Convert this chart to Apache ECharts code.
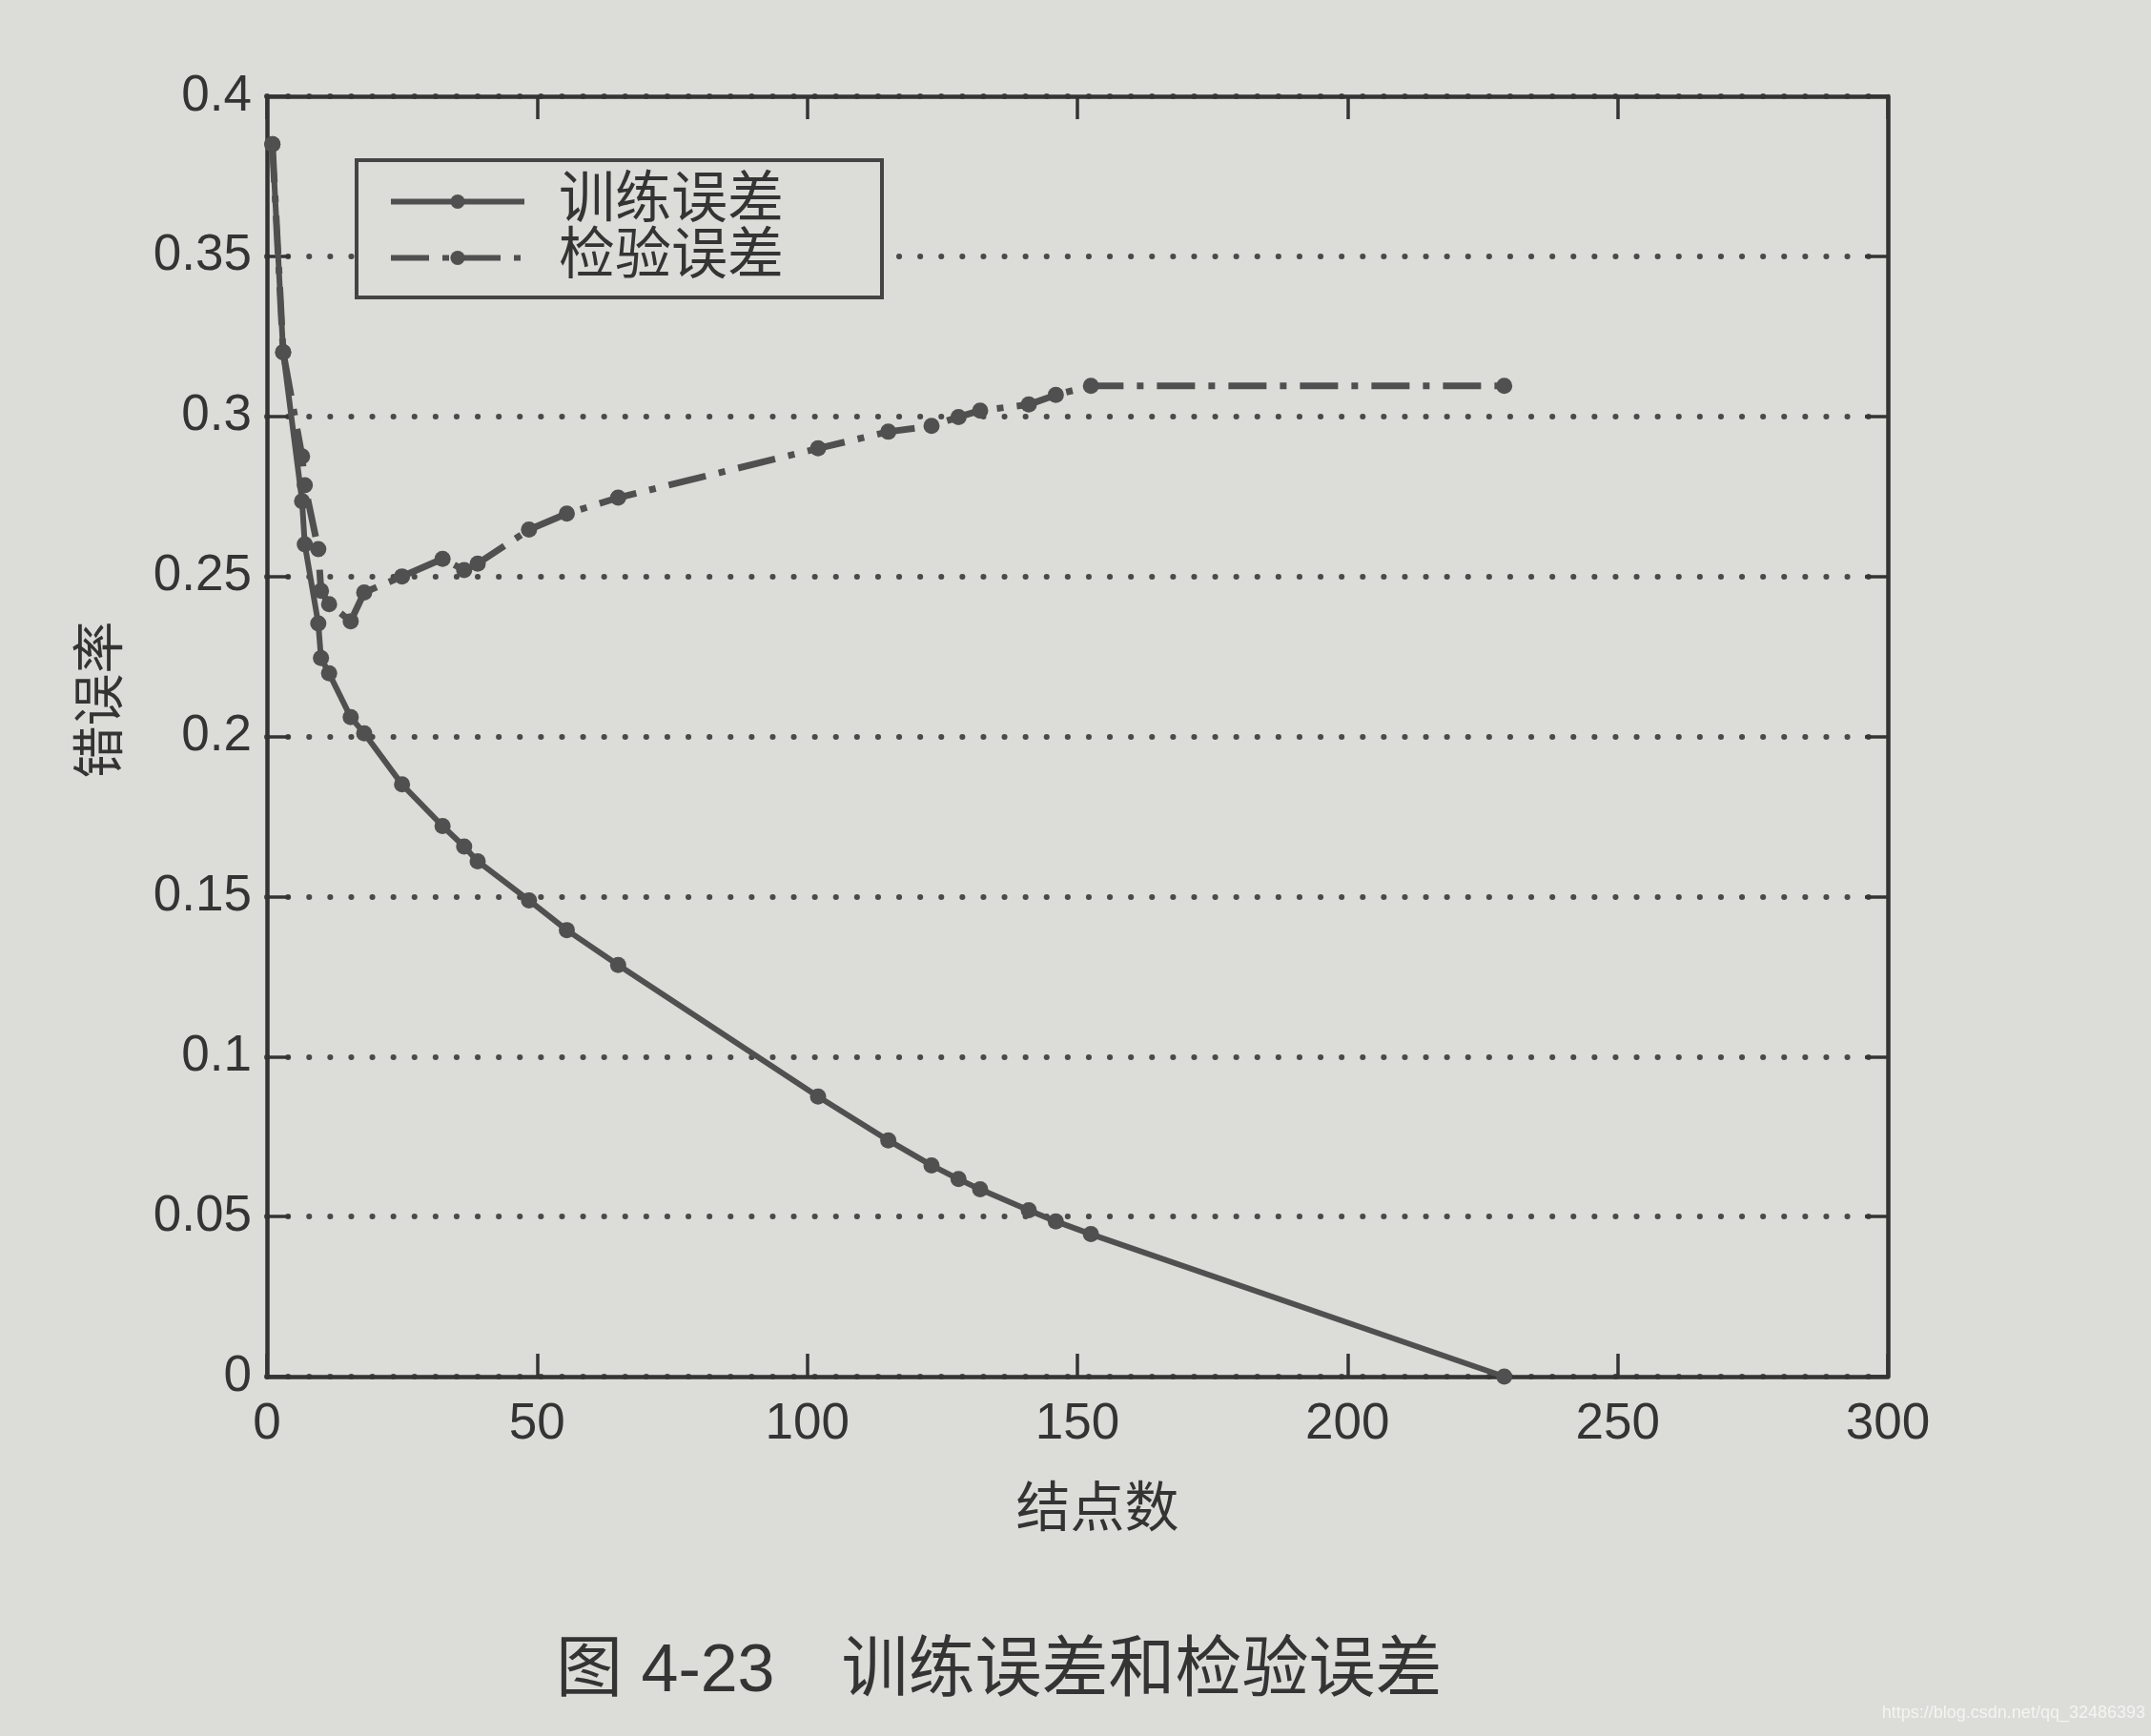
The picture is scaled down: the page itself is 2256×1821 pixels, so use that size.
<!DOCTYPE html>
<html>
<head>
<meta charset="utf-8">
<title>训练误差和检验误差</title>
<script src="https://cdn.jsdelivr.net/npm/echarts@6/dist/echarts.min.js"></script>
<style>
  html, body { margin: 0; padding: 0; background: #dcdcd8; }
  #main { width: 2256px; height: 1821px; }
</style>
</head>
<body>
<div id="main"></div>
<script>
// 数据 (从图上读出来的估计值)
const nodeCounts = [1, 3, 6.5, 7, 9.5, 10, 11.5, 15.5, 18, 25, 32.5, 36.5, 39, 48.5, 55.5, 65, 102, 115, 123, 128, 132, 141, 146, 152.5, 229]
const trainError = [0.385, 0.320, 0.2735, 0.260, 0.2353, 0.2245, 0.2197, 0.206, 0.201, 0.185, 0.172, 0.1656, 0.161, 0.1488, 0.1395, 0.1286, 0.0875, 0.0738, 0.066, 0.0617, 0.0585, 0.052, 0.0485, 0.0445, 0]
const testError = [0.385, 0.320, 0.2875, 0.2785, 0.2585, 0.2455, 0.2413, 0.236, 0.245, 0.250, 0.2555, 0.252, 0.254, 0.2646, 0.2696, 0.2746, 0.290, 0.2952, 0.297, 0.2998, 0.3018, 0.3037, 0.3067, 0.3095, 0.3095]
const seriesNames = ['训练误差', '检验误差']
const xRange = [0, 300, 50] // min, max, interval
const yRange = [0, 0.4, 0.05]

const FONT = "'Liberation Sans', 'Noto Sans CJK SC', sans-serif"
const INK = '#343434'
const LINE = '#505050'
const PAPER = '#dcdcd8'

const chart = echarts.init(document.getElementById('main'))

// 四周的框和朝里的刻度
const tickStyle = { show: true, inside: true, length: 24, lineStyle: { color: INK, width: 3.5 } }
const axisLine = { show: true, onZero: false, lineStyle: { color: INK, width: 4.5 } }
const labelStyle = { color: INK, fontSize: 53, fontFamily: FONT }

chart.setOption({
  animation: false,
  backgroundColor: PAPER,
  grid: { left: 280, right: 276, top: 101, bottom: 377, containLabel: false },
  legend: {
    orient: 'vertical',
    left: 374,
    top: 168,
    data: seriesNames,
    itemWidth: 140,
    itemHeight: 19,
    itemGap: 0,
    padding: [14, 103, 12, 33],
    borderColor: '#444',
    borderWidth: 4,
    backgroundColor: PAPER,
    lineStyle: { width: 6 },
    textStyle: { color: INK, fontSize: 59, lineHeight: 59, fontFamily: FONT, padding: [0, 0, 0, 31] }
  },
  xAxis: [
    {
      type: 'value', min: xRange[0], max: xRange[1], interval: xRange[2],
      axisLine: axisLine, axisTick: tickStyle,
      axisLabel: Object.assign({ margin: 24 }, labelStyle),
      splitLine: { show: false }
    },
    {
      type: 'value', position: 'top', min: xRange[0], max: xRange[1], interval: xRange[2],
      axisLine: axisLine, axisTick: tickStyle, axisLabel: { show: false }, splitLine: { show: false }
    }
  ],
  yAxis: [
    {
      type: 'value', min: yRange[0], max: yRange[1], interval: yRange[2],
      axisLine: axisLine, axisTick: tickStyle,
      axisLabel: Object.assign({ margin: 16 }, labelStyle),
      splitLine: { show: true, lineStyle: { color: '#4a4a4a', width: 6, type: [0.1, 22], cap: 'round' } }
    },
    {
      type: 'value', position: 'right', min: yRange[0], max: yRange[1], interval: yRange[2],
      axisLine: axisLine, axisTick: tickStyle, axisLabel: { show: false }, splitLine: { show: false }
    }
  ],
  series: [
    {
      name: seriesNames[0],
      type: 'line',
      data: nodeCounts.map((n, i) => [n, trainError[i]]),
      symbol: 'circle',
      symbolSize: 17,
      lineStyle: { color: LINE, width: 6 },
      itemStyle: { color: LINE },
      z: 3
    },
    {
      name: seriesNames[1],
      type: 'line',
      data: nodeCounts.map((n, i) => [n, testError[i]]),
      symbol: 'circle',
      symbolSize: 17,
      lineStyle: { color: LINE, width: 7, type: [40, 14, 7, 14] },
      itemStyle: { color: LINE },
      z: 2
    }
  ],
  graphic: [
    { // y 轴名称
      type: 'text', x: 108, y: 734, rotation: Math.PI / 2,
      style: { text: '错误率', fill: INK, fontSize: 55, fontFamily: FONT, align: 'center', verticalAlign: 'middle' }
    },
    { // x 轴名称
      type: 'text', x: 1151, y: 1585,
      style: { text: '结点数', fill: INK, fontSize: 57, fontFamily: FONT, align: 'center', verticalAlign: 'middle' }
    },
    { // 图题
      type: 'text', x: 583, y: 1755,
      style: { text: '图 4-23\u3000训练误差和检验误差', fill: INK, fontSize: 70, fontFamily: FONT, align: 'left', verticalAlign: 'middle' }
    },
    { // 水印
      type: 'text', right: 6, top: 1788,
      style: { text: 'https://blog.csdn.net/qq_32486393', fill: '#f4f4f2', fontSize: 18, fontFamily: FONT }
    }
  ]
})
</script>
</body>
</html>
